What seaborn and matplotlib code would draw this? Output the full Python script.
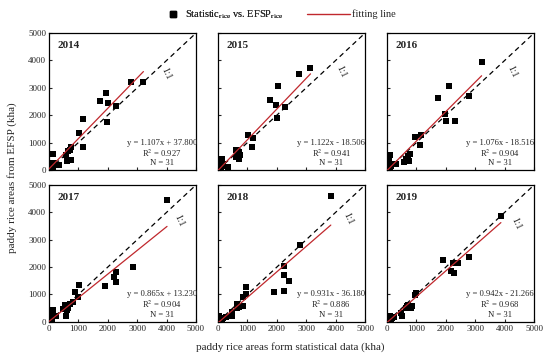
import pandas as pd
import matplotlib
matplotlib.use('Agg')
import matplotlib.pyplot as plt
import seaborn as sns
from matplotlib.lines import Line2D

# values (kha): statistical data vs. EFSP per year
years = ['2014', '2015', '2016', '2017', '2018', '2019']

stat_2014 = [2794, 3213, 1946, 1742, 2002, 2285, 1991, 1154, 1007, 1154, 758, 701, 645, 588, 622, 758,
             136, 339, 79, 57, 136, 20, 40, 60, 100, 15, 180, 30, 90, 10, 50]
efsp_2014 = [3210, 3210, 2815, 2506, 2432, 2346, 1765, 1877, 1358, 827, 827, 741, 679, 556, 333, 370,
             580, 185, 185, 62, 62, 30, 80, 150, 120, 10, 250, 260, 40, 5, 20]

stat_2015 = [3146, 2764, 2056, 1775, 1966, 2292, 1999, 1022, 1180, 1157, 652, 596, 708, 764, 708, 596,
             652, 146, 67, 337, 67, 20, 40, 100, 10, 180, 30, 60, 120, 5, 50]
efsp_2015 = [3731, 3510, 3079, 2562, 2377, 2315, 1909, 1293, 1170, 837, 739, 739, 653, 530, 406, 468,
             591, 406, 222, 123, 99, 30, 60, 80, 10, 200, 250, 20, 150, 5, 40]

stat_2016 = [3216, 2102, 1727, 2795, 1955, 2000, 2307, 1148, 966, 1125, 795, 716, 659, 568, 750, 114,
             68, 318, 68, 91, 20, 40, 120, 10, 180, 30, 60, 100, 5, 50, 700]
efsp_2016 = [3933, 3064, 2630, 2705, 2047, 1799, 1799, 1265, 1203, 906, 596, 496, 397, 285, 335, 558,
             310, 211, 124, 62, 30, 80, 150, 10, 200, 250, 20, 100, 5, 40, 450]

stat_2017 = [4016, 2859, 2280, 2222, 2280, 1898, 1030, 891, 972, 833, 718, 544, 486, 602, 579, 139,
             81, 255, 46, 20, 40, 100, 10, 180, 30, 60, 120, 5, 50, 650, 90]
efsp_2017 = [4454, 2002, 1820, 1638, 1456, 1299, 1359, 1092, 910, 728, 667, 607, 485, 425, 218, 425,
             303, 218, 121, 30, 80, 150, 10, 200, 250, 20, 100, 5, 40, 500, 330]

stat_2018 = [3837, 2802, 2244, 2244, 2407, 2244, 1895, 953, 965, 849, 837, 663, 640, 488, 488, 267,
             116, 35, 20, 40, 100, 10, 180, 30, 60, 120, 5, 50, 80, 150, 700]
efsp_2018 = [4607, 2826, 2052, 1720, 1499, 1130, 1106, 1278, 1032, 909, 577, 663, 516, 369, 209, 184,
             147, 147, 30, 80, 100, 10, 150, 200, 20, 60, 5, 40, 120, 90, 560]

stat_2019 = [3872, 2802, 1895, 2244, 2407, 2186, 2291, 988, 953, 849, 814, 663, 640, 488, 500, 116,
             58, 233, 20, 40, 100, 10, 180, 30, 60, 120, 5, 50, 80, 150, 700]
efsp_2019 = [3870, 2359, 2273, 2138, 2150, 1867, 1769, 1069, 983, 577, 516, 577, 516, 332, 209, 209,
             147, 172, 30, 80, 100, 10, 150, 200, 20, 60, 5, 40, 120, 90, 600]

slopes = [1.107, 1.122, 1.076, 0.865, 0.931, 0.942]
intercepts = [37.800, -18.506, -18.516, 13.230, -36.180, -21.266]
eq_labels = ['y = 1.107x + 37.800', 'y = 1.122x - 18.506', 'y = 1.076x - 18.516',
             'y = 0.865x + 13.230', 'y = 0.931x - 36.180', 'y = 0.942x - 21.266']
r2_labels = ['0.927', '0.941', '0.904', '0.904', '0.886', '0.968']
n_obs = [31, 31, 31, 31, 31, 31]
one_one_pos = [(3980, 3520), (4190, 3610), (4240, 3600), (4420, 3700), (4420, 3770), (4380, 3590)]

stat = [stat_2014, stat_2015, stat_2016, stat_2017, stat_2018, stat_2019]
efsp = [efsp_2014, efsp_2015, efsp_2016, efsp_2017, efsp_2018, efsp_2019]

sns.set_style('ticks')
plt.rcParams['font.family'] = ['Liberation Serif', 'DejaVu Serif']
plt.rcParams['mathtext.fontset'] = 'stix'

fig, axes = plt.subplots(2, 3, figsize=(5.5, 3.6), dpi=100, sharex=True, sharey=True)
fig.subplots_adjust(left=0.089, right=0.971, top=0.908, bottom=0.106, wspace=0.15, hspace=0.11)

for i, ax in enumerate(axes.flat):
    df = pd.DataFrame({'stat': stat[i], 'efsp': efsp[i]})
    sns.scatterplot(data=df, x='stat', y='efsp', marker='s', s=20, color='black',
                    edgecolor='black', linewidth=0, ax=ax, zorder=3)
    ax.plot([0, 5000], [0, 5000], ls=(0, (4, 3)), color='black', lw=0.9, zorder=2)
    xs = [0, max(stat[i])]
    ax.plot(xs, [slopes[i] * x + intercepts[i] for x in xs], color='#c0282d', lw=0.9, zorder=4)
    ax.set_xlim(0, 5000)
    ax.set_ylim(0, 5000)
    ax.set_xticks(range(0, 5001, 1000))
    ax.set_yticks(range(0, 5001, 1000))
    ax.tick_params(direction='in', length=2, labelsize=6.5, pad=2)
    ax.set_xlabel('')
    ax.set_ylabel('')
    ax.text(0.06, 0.94, years[i], transform=ax.transAxes, fontsize=8, fontweight='bold',
            ha='left', va='top')
    ax.text(*one_one_pos[i], '1:1', fontsize=7, rotation=-65, ha='center', va='center')
    ax.text(0.77, 0.2, eq_labels[i], transform=ax.transAxes, fontsize=6.2, ha='center', va='center')
    ax.text(0.77, 0.125, r'R$^2$ = ' + r2_labels[i], transform=ax.transAxes, fontsize=6.2,
            ha='center', va='center')
    ax.text(0.77, 0.05, 'N = %d' % n_obs[i], transform=ax.transAxes, fontsize=6.2,
            ha='center', va='center')
    for sp in ax.spines.values():
        sp.set_visible(True)
        sp.set_linewidth(0.9)
        sp.set_color('black')

fig.text(0.527, 0.035, 'paddy rice areas form statistical data (kha)', ha='center', va='center', fontsize=8)
fig.text(0.022, 0.507, 'paddy rice areas from EFSP (kha)', ha='center', va='center',
         rotation=90, fontsize=8)

# two separate legend entries, as in the reference
leg1 = fig.legend([Line2D([], [], marker='s', ls='none', color='black', markersize=4)],
                  [r'Statistic$_{\mathrm{rice}}$ vs. EFSP$_{\mathrm{rice}}$'],
                  loc='center left', bbox_to_anchor=(0.305, 0.96), frameon=False,
                  fontsize=7.5, handlelength=1, handletextpad=0.7, borderpad=0, borderaxespad=0)
fig.add_artist(leg1)
fig.legend([Line2D([], [], color='#c0282d', lw=1)], ['fitting line'],
           loc='center left', bbox_to_anchor=(0.558, 0.96), frameon=False,
           fontsize=7.5, handlelength=4.1, handletextpad=0.2, borderpad=0, borderaxespad=0)

plt.savefig('out.png', dpi=100)
plt.close()
